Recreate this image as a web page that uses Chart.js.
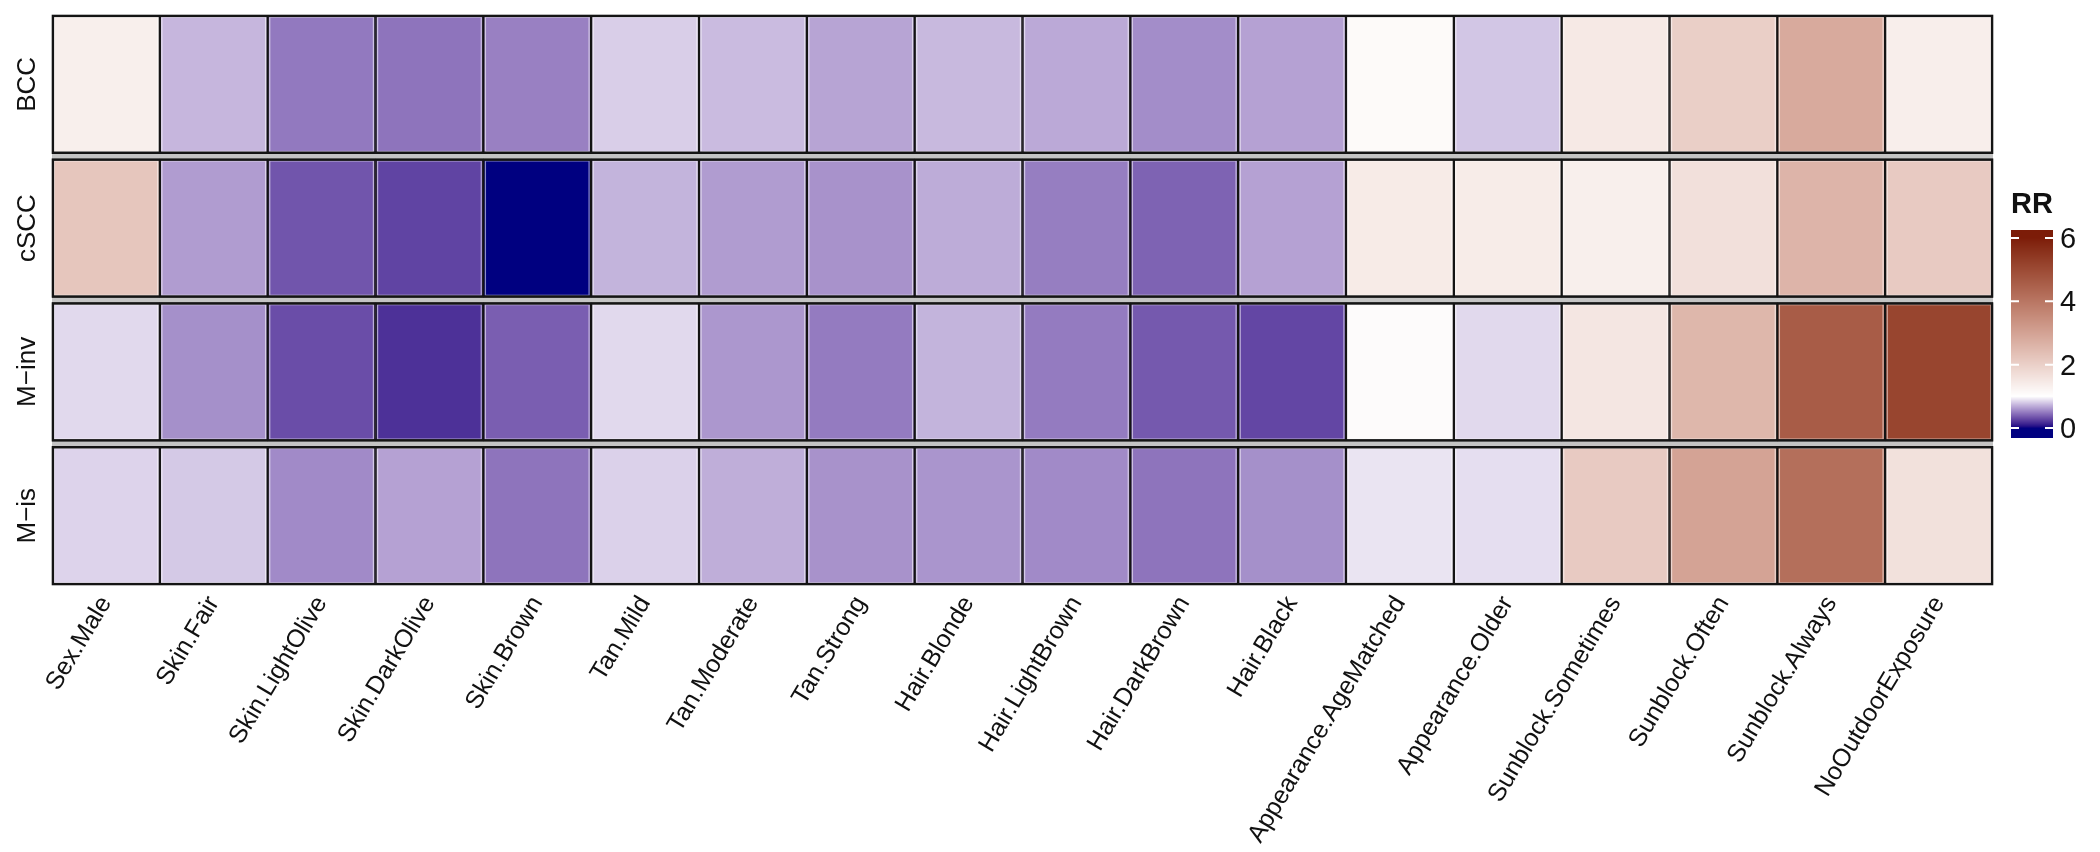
<!DOCTYPE html>
<html>
<head>
<meta charset="utf-8">
<script src="https://cdn.jsdelivr.net/npm/chart.js@4.4.0/dist/chart.umd.min.js"></script>
<style>
  html, body { margin: 0; padding: 0; background: #ffffff; }
  canvas { display: block; }
</style>
</head>
<body>
<canvas id="chart" width="2100" height="852" style="width:2100px;height:852px"></canvas>
<script>
// ---------------- data ----------------
const categories = [
  'Sex.Male', 'Skin.Fair', 'Skin.LightOlive', 'Skin.DarkOlive', 'Skin.Brown',
  'Tan.Mild', 'Tan.Moderate', 'Tan.Strong', 'Hair.Blonde', 'Hair.LightBrown',
  'Hair.DarkBrown', 'Hair.Black', 'Appearance.AgeMatched', 'Appearance.Older',
  'Sunblock.Sometimes', 'Sunblock.Often', 'Sunblock.Always', 'NoOutdoorExposure'
];
const rowNames = ['BCC', 'cSCC', 'M\u2212inv', 'M\u2212is'];

const bccRR  = [1.34, 0.73, 0.49, 0.47, 0.52, 0.82, 0.75, 0.66, 0.74, 0.68, 0.57, 0.65, 1.11, 0.79, 1.47, 2.02, 2.82, 1.36];
const csccRR = [2.21, 0.63, 0.34, 0.27, 0.00, 0.72, 0.63, 0.59, 0.69, 0.51, 0.40, 0.65, 1.43, 1.41, 1.34, 1.66, 2.60, 2.12];
const minvRR = [0.86, 0.58, 0.31, 0.19, 0.38, 0.86, 0.61, 0.50, 0.72, 0.50, 0.36, 0.28, 1.08, 0.86, 1.53, 2.55, 4.60, 5.12];
const misRR  = [0.84, 0.80, 0.56, 0.65, 0.47, 0.83, 0.70, 0.59, 0.60, 0.56, 0.47, 0.58, 0.90, 0.88, 2.12, 2.98, 4.17, 1.64];

const legendTicks = [0, 2, 4, 6];
const legendTitle = 'RR';

// colour scale: navy -> white (at 1) -> dark red, interpolated in CIE Lab
const scaleLow = 0, scaleMid = 1, scaleHigh = 6;
const colLow = [0, 0, 128], colMid = [255, 255, 255], colHigh = [124, 28, 8];

// ---------------- colour helpers ----------------
function toLin(c) { c /= 255; return c <= 0.04045 ? c / 12.92 : Math.pow((c + 0.055) / 1.055, 2.4); }
function toSrgb(c) { c = Math.max(0, Math.min(1, c)); const v = c <= 0.0031308 ? 12.92 * c : 1.055 * Math.pow(c, 1 / 2.4) - 0.055; return Math.round(Math.max(0, Math.min(1, v)) * 255); }
const Xn = 0.95047, Yn = 1.0, Zn = 1.08883;
function rgbToLab(rgb) {
  const R = toLin(rgb[0]), G = toLin(rgb[1]), B = toLin(rgb[2]);
  const X = 0.4124 * R + 0.3576 * G + 0.1805 * B;
  const Y = 0.2126 * R + 0.7152 * G + 0.0722 * B;
  const Z = 0.0193 * R + 0.1192 * G + 0.9505 * B;
  const f = t => t > 0.008856 ? Math.cbrt(t) : 7.787 * t + 16 / 116;
  const fx = f(X / Xn), fy = f(Y / Yn), fz = f(Z / Zn);
  return [116 * fy - 16, 500 * (fx - fy), 200 * (fy - fz)];
}
function labToRgb(lab) {
  const fy = (lab[0] + 16) / 116, fx = fy + lab[1] / 500, fz = fy - lab[2] / 200;
  const inv = t => (t * t * t > 0.008856) ? t * t * t : (t - 16 / 116) / 7.787;
  const X = Xn * inv(fx), Y = Yn * inv(fy), Z = Zn * inv(fz);
  const R = 3.2406 * X - 1.5372 * Y - 0.4986 * Z;
  const G = -0.9689 * X + 1.8758 * Y + 0.0415 * Z;
  const B = 0.0557 * X - 0.2040 * Y + 1.0570 * Z;
  return [toSrgb(R), toSrgb(G), toSrgb(B)];
}
const labLow = rgbToLab(colLow), labMid = rgbToLab(colMid), labHigh = rgbToLab(colHigh);
function colourFor(v) {
  let a, b, t;
  if (v <= scaleMid) { a = labLow; b = labMid; t = (v - scaleLow) / (scaleMid - scaleLow); }
  else { a = labMid; b = labHigh; t = (v - scaleMid) / (scaleHigh - scaleMid); }
  t = Math.max(0, Math.min(1, t));
  const lab = [a[0] + (b[0] - a[0]) * t, a[1] + (b[1] - a[1]) * t, a[2] + (b[2] - a[2]) * t];
  const c = labToRgb(lab);
  return `rgb(${c[0]},${c[1]},${c[2]})`;
}

// ---------------- chart ----------------
const rowValues = [bccRR, csccRR, minvRR, misRR];
const half = 0.018;           // half of the gap between facet rows (in row units)
const FONT = "'Liberation Sans', Arial, Helvetica, sans-serif";
const TEXT = '#111111';

const datasets = rowNames.map((name, i) => ({
  label: name,
  data: rowValues[i].map((v, j) => ({ x: categories[j], y: [i + half, i + 1 - half], v: v })),
  backgroundColor: ctx => (ctx.raw && ctx.raw.v !== undefined) ? colourFor(ctx.raw.v) : '#fff',
  borderColor: '#141414',
  borderWidth: 1.5,
  borderSkipped: false,
  grouped: false,
  barPercentage: 1,
  categoryPercentage: 1
}));

const facetPlugin = {
  id: 'facetDecor',
  beforeDatasetsDraw(chart) {
    const { ctx, chartArea } = chart;
    const ys = chart.scales.y;
    ctx.save();
    ctx.fillStyle = '#c4c4c4';
    for (let i = 1; i < rowNames.length; i++) {
      const a = ys.getPixelForValue(i - half), b = ys.getPixelForValue(i + half);
      ctx.fillRect(chartArea.left, Math.min(a, b), chartArea.right - chartArea.left, Math.abs(b - a));
    }
    ctx.restore();
  },
  afterDatasetsDraw(chart) {
    const { ctx, chartArea } = chart;
    const ys = chart.scales.y;
    ctx.save();
    // soft light inner edge inside each tile
    ctx.strokeStyle = 'rgba(255,255,255,0.55)';
    ctx.lineWidth = 1.2;
    chart.data.datasets.forEach((ds, di) => {
      chart.getDatasetMeta(di).data.forEach(bar => {
        const p = bar.getProps(['x', 'y', 'base', 'width'], true);
        const top = Math.min(p.y, p.base), bot = Math.max(p.y, p.base);
        const l = p.x - p.width / 2, r = p.x + p.width / 2;
        const ins = 1.5 + 0.6;
        ctx.strokeRect(l + ins, top + ins, (r - l) - 2 * ins, (bot - top) - 2 * ins);
      });
    });
    // panel outlines
    ctx.strokeStyle = '#141414';
    ctx.lineWidth = 2.4;
    for (let i = 0; i < rowNames.length; i++) {
      const a = ys.getPixelForValue(i + half), b = ys.getPixelForValue(i + 1 - half);
      const top = Math.min(a, b), bot = Math.max(a, b);
      ctx.strokeRect(chartArea.left + 0.9, top + 0.9, chartArea.right - chartArea.left - 1.8, bot - top - 1.8);
    }
    ctx.restore();
  },
  afterDraw(chart) {
    const { ctx, chartArea } = chart;
    const ys = chart.scales.y;
    ctx.save();
    // row (facet) labels
    ctx.fillStyle = TEXT;
    ctx.font = `26px ${FONT}`;
    ctx.textAlign = 'center';
    ctx.textBaseline = 'middle';
    rowNames.forEach((name, i) => {
      const yc = ys.getPixelForValue(i + 0.5);
      ctx.save();
      ctx.translate(chartArea.left - 24, yc);
      ctx.rotate(-Math.PI / 2);
      ctx.fillText(name, 0, 0);
      ctx.restore();
    });

    // colour bar legend
    const barL = 2011, barR = 2053;
    const pxPerUnit = 31.67, zeroY = 428;
    const yOf = v => zeroY - v * pxPerUnit;
    const vTop = (zeroY - 230) / pxPerUnit, vBot = (zeroY - 438) / pxPerUnit;
    const yTop = yOf(vTop), yBot = yOf(vBot);
    for (let y = Math.floor(yTop); y < Math.ceil(yBot); y++) {
      const v = (zeroY - (y + 0.5)) / pxPerUnit;
      ctx.fillStyle = colourFor(v);
      ctx.fillRect(barL, y, barR - barL, 1);
    }
    ctx.strokeStyle = '#ffffff';
    ctx.lineWidth = 2;
    legendTicks.forEach(t => {
      const y = yOf(t);
      ctx.beginPath();
      ctx.moveTo(barL, y); ctx.lineTo(barL + 8, y);
      ctx.moveTo(barR - 8, y); ctx.lineTo(barR, y);
      ctx.stroke();
    });
    ctx.fillStyle = TEXT;
    ctx.font = `29px ${FONT}`;
    ctx.textAlign = 'left';
    ctx.textBaseline = 'middle';
    legendTicks.forEach(t => ctx.fillText(String(t), 2060, yOf(t) + 2));
    ctx.font = `bold 29px ${FONT}`;
    ctx.textBaseline = 'alphabetic';
    ctx.fillText(legendTitle, 2011, 213);
    ctx.restore();
  }
};

new Chart(document.getElementById('chart'), {
  type: 'bar',
  data: { labels: categories, datasets: datasets },
  options: {
    responsive: false,
    animation: false,
    devicePixelRatio: 1,
    layout: { padding: { left: 52, right: 107, top: 15, bottom: 0 } },
    plugins: { legend: { display: false }, tooltip: { enabled: false } },
    scales: {
      x: {
        type: 'category',
        offset: true,
        grid: { display: false, drawTicks: false },
        border: { display: false },
        ticks: {
          autoSkip: false,
          minRotation: 59,
          maxRotation: 59,
          padding: 6,
          labelOffset: 0,
          color: TEXT,
          font: { family: FONT, size: 25 }
        },
        afterFit(s) { s.height = 852 - 585; s.paddingLeft = 0; s.paddingRight = 0; }
      },
      y: {
        type: 'linear',
        reverse: true,
        min: half,
        max: rowNames.length - half,
        display: false
      }
    }
  },
  plugins: [facetPlugin]
});
</script>
</body>
</html>
